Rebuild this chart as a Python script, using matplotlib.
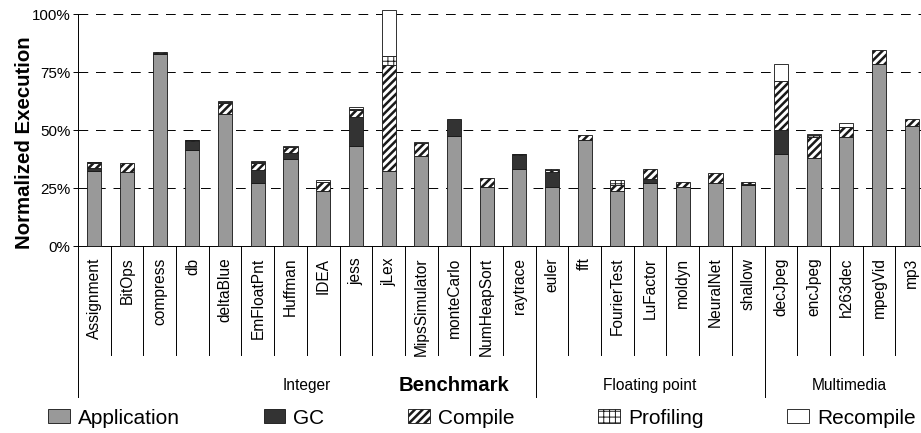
import numpy as np
import matplotlib
matplotlib.use('Agg')
import matplotlib.pyplot as plt

# Benchmarks and their groups
benchmarks = ['Assignment', 'BitOps', 'compress', 'db', 'deltaBlue', 'EmFloatPnt', 'Huffman', 'IDEA', 'jess',
              'jLex', 'MipsSimulator', 'monteCarlo', 'NumHeapSort', 'raytrace',
              'euler', 'fft', 'FourierTest', 'LuFactor', 'moldyn', 'NeuralNet', 'shallow',
              'decJpeg', 'encJpeg', 'h263dec', 'mpegVid', 'mp3']
groups = ['Integer', 'Floating point', 'Multimedia']
group_sizes = [14, 7, 5]

# Share of execution time (%) for each component
application = [32.5, 31.7, 82.9, 41.3, 57.1, 27.2, 37.7, 23.8, 43.3, 32.4, 38.7, 47.4, 25.5, 33.4,
               25.5, 45.9, 23.8, 27.2, 25.5, 27.2, 26.5,
               39.6, 37.8, 46.8, 78.3, 51.7]
gc = [1.3, 0.0, 0.3, 3.9, 0.0, 5.5, 2.2, 0.0, 12.1, 0.0, 0.0, 7.5, 0.0, 5.7,
      6.2, 0.0, 0.0, 1.6, 0.0, 0.0, 0.4,
      10.6, 0.0, 0.0, 0.0, 0.0]
compile_ = [2.0, 3.9, 0.4, 0.5, 4.7, 2.9, 2.7, 3.7, 3.1, 45.8, 5.6, 0.0, 3.9, 0.4,
            0.9, 1.8, 2.7, 4.2, 2.2, 4.1, 0.8,
            21.1, 9.2, 4.5, 6.3, 3.2]
profiling = [0.3, 0.0, 0.0, 0.0, 0.4, 0.4, 0.0, 0.3, 0.6, 3.7, 0.0, 0.0, 0.0, 0.3,
             0.4, 0.0, 1.9, 0.0, 0.0, 0.0, 0.0,
             0.0, 0.7, 0.0, 0.0, 0.0]
recompile = [0.3, 0.0, 0.0, 0.2, 0.5, 0.5, 0.7, 0.6, 0.8, 20.0, 0.7, 0.0, 0.0, 0.0,
             0.0, 0.0, 0.0, 0.0, 0.0, 0.0, 0.0,
             7.3, 0.7, 1.7, 0.0, 0.0]

yticks = [0, 25, 50, 75, 100]

DPI = 70
plt.rcParams['font.family'] = ['Liberation Sans', 'DejaVu Sans']

fig = plt.figure(figsize=(921 / DPI, 433 / DPI), dpi=DPI)
ax = fig.add_axes([78 / 921, 1 - 246 / 433, 850 / 921, 232 / 433])

x = np.arange(len(benchmarks))
width = 0.43
# name, values, style, hatch line width
series = [
    ('Application', application, dict(color='#999999'), 1.0),
    ('GC', gc, dict(color='#333333'), 1.0),
    ('Compile', compile_, dict(color='white', hatch='///'), 2.6),
    ('Profiling', profiling, dict(color='white', hatch='++'), 1.0),
    ('Recompile', recompile, dict(color='white'), 1.0),
]
bottom = np.zeros(len(benchmarks))
handles = []
for name, vals, style, hlw in series:
    vals = np.array(vals, dtype=float)
    lw = np.where(vals > 0, 0.9, 0.0)
    with plt.rc_context({'hatch.linewidth': hlw}):
        bars = ax.bar(x, vals, width, bottom=bottom, edgecolor='#1a1a1a', linewidth=lw,
                      label=name, zorder=3, clip_on=False, **style)
    bars.patches[0].set_linewidth(0.9)
    for p in bars.patches:
        if hasattr(p, 'set_hatch_linewidth'):
            p.set_hatch_linewidth(hlw)
    handles.append(bars)
    bottom += vals

# Axis limits and grid
ax.set_xlim(-0.5, len(benchmarks) - 0.5)
ax.set_ylim(0, 100)
for y in yticks[1:]:
    ax.axhline(y, color='black', lw=1, dashes=(10, 8), zorder=1)
ax.set_yticks(yticks)
ax.set_yticklabels(['%d%%' % t for t in yticks], fontsize=15.5)
ax.tick_params(axis='y', direction='out', length=5, width=1, pad=3)
ax.set_xticks([])
for side in ['top', 'right']:
    ax.spines[side].set_visible(False)
ax.spines['left'].set_linewidth(1)
ax.spines['bottom'].set_linewidth(1)
ax.set_ylabel('Normalized Execution', fontsize=21, fontweight='bold')
ax.yaxis.set_label_coords(-0.052, 0.445)

# Category table below the axis
trans = ax.get_xaxis_transform()
for i, name in enumerate(benchmarks):
    ax.text(i, -0.05, name, rotation=90, ha='center', va='top', fontsize=16,
            transform=trans)
edges = np.cumsum([0] + group_sizes) - 0.5
for b in np.arange(len(benchmarks)) - 0.5:
    low = -0.651 if b in edges else -0.47
    ax.plot([b, b], [0, low], color='black', lw=1, transform=trans, clip_on=False)
for g, name in enumerate(groups):
    cx = (edges[g] + edges[g + 1]) / 2
    if g == 2:
        cx += 0.08
    ax.text(cx, -0.6, name, ha='center', va='center', fontsize=16, transform=trans)
ax.text(11, -0.6, 'Benchmark', ha='center', va='center', fontsize=21, fontweight='bold',
        transform=trans)

# Legend along the bottom
leg = fig.legend(handles=handles, loc='center left', bbox_to_anchor=(48 / 921, 1 - 418 / 433),
                 ncol=5, frameon=False, fontsize=21.5, borderpad=0, borderaxespad=0,
                 handlelength=1.05, handleheight=0.62, handletextpad=0.38, columnspacing=4.0)
for h, s in zip(leg.legend_handles, series):
    h.set_linewidth(0.9)
    if hasattr(h, 'set_hatch_linewidth'):
        h.set_hatch_linewidth(s[3])

fig.savefig('out.png', dpi=DPI)
